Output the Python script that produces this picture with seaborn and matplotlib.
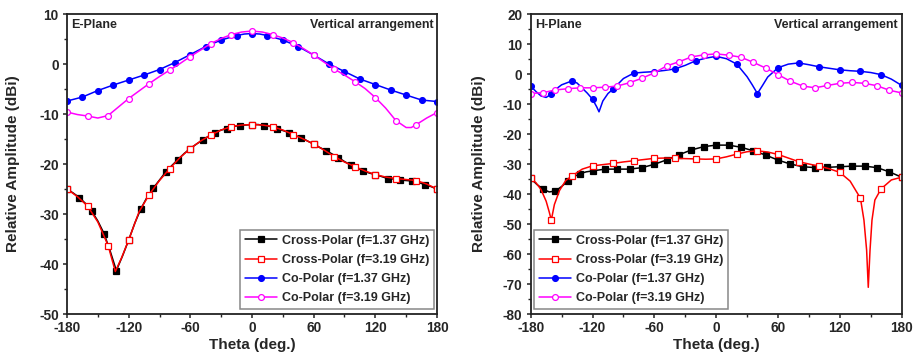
import numpy as np
import pandas as pd
import matplotlib
matplotlib.use("Agg")
import matplotlib.pyplot as plt
from matplotlib.ticker import MultipleLocator
import seaborn as sns

# ---------------- E-plane data ----------------
e_cx137_theta = [-180, -174, -168, -162, -156, -150, -144, -138, -132, -126, -120, -114, -108,
                 -102, -96, -90, -84, -78, -72, -66, -60, -54, -48, -42, -36, -30, -24, -18,
                 -12, -6, 0, 6, 12, 18, 24, 30, 36, 42, 48, 54, 60, 66, 72, 78, 84, 90, 96,
                 102, 108, 114, 120, 126, 132, 138, 144, 150, 156, 162, 168, 174, 180]
e_cx137_val = [-25.0, -25.8, -26.7, -27.9, -29.4, -31.4, -33.9, -37.4, -41.3, -38.4, -35.2, -31.8,
               -28.9, -26.6, -24.8, -23.2, -21.6, -20.3, -19.1, -17.9, -16.9, -16.0, -15.2, -14.4,
               -13.7, -13.2, -12.9, -12.5, -12.3, -12.2, -12.1, -12.1, -12.3, -12.5, -12.9, -13.3,
               -13.7, -14.3, -14.7, -15.4, -16.0, -16.7, -17.3, -18.0, -18.7, -19.5, -20.2, -20.8,
               -21.3, -21.8, -22.1, -22.5, -22.9, -23.0, -23.2, -23.3, -23.4, -23.7, -24.1, -24.5,
               -25.0]

e_cx319_theta = [-180, -170, -160, -150, -140, -133, -127, -120, -110, -100, -90, -80, -70, -60,
                 -50, -40, -30, -20, -10, 0, 10, 20, 30, 40, 50, 60, 70, 80, 90, 100, 110, 120,
                 130, 140, 150, 160, 170, 180]
e_cx319_val = [-25.0, -26.5, -28.4, -31.6, -36.3, -41.5, -38.8, -35.2, -29.6, -26.1, -23.3, -20.9,
               -18.7, -16.9, -15.4, -14.2, -13.2, -12.5, -12.2, -12.1, -12.2, -12.5, -13.2, -14.1,
               -15.0, -16.0, -17.2, -18.5, -19.6, -20.5, -21.4, -22.1, -22.6, -22.9, -23.1, -23.3,
               -24.0, -25.0]

e_co137_theta = [-180, -165, -150, -135, -120, -105, -90, -75, -60, -45, -30, -15, -7.5, 0, 7.5,
                 15, 30, 45, 60, 75, 90, 105, 120, 135, 150, 165, 180]
e_co137_val = [-7.4, -6.6, -5.3, -4.2, -3.2, -2.2, -1.1, 0.3, 1.9, 3.5, 4.8, 5.7, 6.0, 6.1, 6.0,
               5.7, 4.8, 3.5, 1.8, 0.0, -1.5, -3.0, -4.1, -5.2, -6.2, -7.2, -7.5]

e_co319_theta = [-180, -170, -160, -150, -140, -130, -120, -110, -100, -90, -80, -70, -60, -50,
                 -40, -30, -20, -10, 0, 10, 20, 30, 40, 50, 60, 70, 80, 90, 100, 110, 120, 130,
                 140, 150, 155, 160, 170, 180]
e_co319_val = [-9.6, -10.1, -10.4, -10.8, -10.3, -8.6, -6.9, -5.4, -3.9, -2.5, -1.2, 0.1, 1.5,
               2.8, 4.1, 5.1, 5.9, 6.4, 6.6, 6.4, 5.9, 5.2, 4.3, 3.1, 1.8, 0.4, -1.0, -2.2, -3.5,
               -4.9, -6.7, -8.8, -11.3, -12.7, -12.7, -12.1, -10.8, -9.7]

# ---------------- H-plane data ----------------
h_cx137_theta = [-180, -174, -168, -162, -156, -150, -144, -138, -132, -126, -120, -108, -96, -84,
                 -72, -60, -48, -36, -24, -12, 0, 12, 24, 36, 48, 60, 72, 84, 96, 108, 120, 132,
                 144, 156, 168, 174, 180]
h_cx137_val = [-34.8, -36.8, -38.4, -39.3, -39.0, -37.5, -35.7, -34.2, -33.2, -32.6, -32.3, -31.7,
               -31.7, -31.7, -31.2, -30.1, -28.6, -26.9, -25.3, -24.2, -23.7, -23.7, -24.4, -25.6,
               -27.0, -28.7, -30.0, -30.9, -31.2, -31.1, -30.9, -30.7, -30.7, -31.2, -32.6, -33.5,
               -34.4]

h_cx319_theta = [-180, -175, -170, -165, -162, -160, -157, -152, -146, -140, -130, -120, -110,
                 -100, -90, -80, -70, -60, -50, -40, -30, -20, -10, 0, 10, 20, 30, 40, 50, 60, 70,
                 80, 90, 100, 110, 120, 130, 140, 143.4, 146, 147.6, 149.3, 151.2, 154, 160, 170,
                 180]
h_cx319_val = [-34.8, -36.2, -38.5, -42.4, -46.0, -48.7, -43.5, -38.8, -35.5, -34.0, -31.7, -30.6,
               -30.2, -29.8, -29.3, -28.9, -28.5, -28.1, -28.0, -28.1, -28.2, -28.3, -28.4, -28.3,
               -27.6, -26.7, -25.9, -25.6, -26.0, -26.8, -28.0, -29.2, -30.0, -30.7, -31.6, -32.8,
               -35.7, -41.4, -48.7, -58.7, -71.1, -58.7, -48.7, -42.0, -38.3, -35.3, -34.4]

h_co137_theta = [-180, -175, -170, -165, -160, -155, -150, -140, -135, -130, -125, -120, -116,
                 -113.7, -110, -105, -100, -90, -80, -70, -60, -50, -40, -30, -20, -10, 0, 10,
                 20, 30, 35, 40, 45, 50, 60, 70, 80, 90, 100, 110, 120, 130, 140, 150, 160, 170,
                 180]
h_co137_val = [-4.0, -5.8, -7.3, -7.8, -6.7, -4.9, -3.6, -2.3, -3.0, -4.7, -6.4, -8.4, -10.9,
               -12.6, -9.0, -6.5, -5.0, -1.5, 0.3, 0.6, 0.8, 1.2, 1.7, 2.9, 4.4, 5.3, 5.9, 5.1,
               3.3, -0.9, -3.6, -6.5, -3.8, -1.0, 2.1, 3.3, 3.7, 3.1, 2.4, 1.9, 1.4, 1.1, 0.9, 0.5,
               -0.2, -1.7, -3.8]

h_co319_theta = [-180, -168, -156, -144, -132, -120, -108, -96, -84, -72, -60, -48, -36, -24, -12,
                 0, 12, 24, 36, 48, 60, 72, 84, 96, 108, 120, 132, 144, 156, 168, 180]
h_co319_val = [-6.5, -6.2, -5.3, -4.9, -4.6, -4.6, -4.4, -4.0, -2.9, -1.4, 0.4, 2.7, 4.1, 5.7, 6.4,
               6.7, 6.3, 5.6, 3.9, 2.0, -0.2, -2.4, -4.0, -4.6, -3.8, -3.1, -2.8, -3.1, -3.9, -5.4,
               -6.3]

labels = ["Cross-Polar (f=1.37 GHz)", "Cross-Polar (f=3.19 GHz)",
          "Co-Polar (f=1.37 GHz)", "Co-Polar (f=3.19 GHz)"]
x_ticks = [-180, -120, -60, 0, 60, 120, 180]

sns.set_style("ticks")
plt.rcParams["font.family"] = ["Liberation Sans", "DejaVu Sans"]
plt.rcParams["font.weight"] = "bold"
plt.rcParams["axes.labelweight"] = "bold"
plt.rcParams["axes.unicode_minus"] = False

# series styles: colour, marker, filled?, marker size
styles = [
    ("#000000", "s", True, 3.9),
    ("#ff0000", "s", False, 3.9),
    ("#0000ff", "o", True, 4.2),
    ("#ff00ff", "o", False, 4.2),
]


def mark_idx(theta, step):
    return [i for i, t in enumerate(theta) if abs(((t + 180) / step) - round((t + 180) / step)) < 1e-6]


def draw_panel(ax, series, steps, ylim, ystep, title, legend_anchor, legend_loc):
    for (theta, vals), (color, mk, filled, ms), step, lab in zip(series, styles, steps, labels):
        df = pd.DataFrame({"theta": theta, "amp": vals})
        sns.lineplot(data=df, x="theta", y="amp", ax=ax, color=color, linewidth=1.1,
                     marker=mk, markersize=ms, markevery=mark_idx(theta, step),
                     markerfacecolor=color if filled else "white",
                     markeredgecolor=color, markeredgewidth=0.9,
                     errorbar=None, label=lab, legend=False)
    ax.set_xlim(-180, 180)
    ax.set_ylim(*ylim)
    ax.set_xticks(x_ticks)
    ax.xaxis.set_minor_locator(MultipleLocator(30))
    ax.yaxis.set_major_locator(MultipleLocator(ystep))
    ax.yaxis.set_minor_locator(MultipleLocator(ystep / 2))
    ax.tick_params(axis="both", which="major", direction="out", length=3, width=1.1,
                   labelsize=9.8, top=False, right=False, color="#222222")
    ax.tick_params(axis="both", which="minor", direction="out", length=1.9, width=1.0,
                   top=False, right=False, color="#222222")
    ax.tick_params(axis="x", which="major", pad=2.3)
    ax.tick_params(axis="y", which="major", pad=3.0)
    for lbl in ax.get_xticklabels() + ax.get_yticklabels():
        lbl.set_fontweight("bold")
    for sp in ax.spines.values():
        sp.set_visible(True)
        sp.set_linewidth(1.3)
        sp.set_color("#222222")
    ax.set_xlabel("Theta (deg.)", fontsize=11, fontweight="bold")
    ax.set_ylabel("Relative Amplitude (dBi)", fontsize=11, fontweight="bold")
    ax.xaxis.set_label_coords(0.5, -0.079)
    ax.text(0.012, 0.962, title, transform=ax.transAxes, fontsize=9, fontweight="bold",
            ha="left", va="center")
    ax.text(0.99, 0.962, "Vertical arrangement", transform=ax.transAxes, fontsize=9,
            fontweight="bold", ha="right", va="center")
    leg = ax.legend(handles=ax.get_lines(), labels=labels, loc=legend_loc,
                    bbox_to_anchor=legend_anchor, borderaxespad=0, fontsize=9,
                    frameon=True, fancybox=False, handlelength=2.6, handletextpad=0.4,
                    labelspacing=0.58, borderpad=0.36, framealpha=1)
    leg.get_frame().set_edgecolor("#888888")
    leg.get_frame().set_linewidth(1.1)
    for t in leg.get_texts():
        t.set_fontweight("bold")


fig = plt.figure(figsize=(9.18, 3.57), dpi=100)
ax1 = fig.add_axes([0.073, 0.1204, 0.403, 0.8403])
ax2 = fig.add_axes([0.5781, 0.1204, 0.4041, 0.8403])

draw_panel(ax1,
           [(e_cx137_theta, e_cx137_val), (e_cx319_theta, e_cx319_val),
            (e_co137_theta, e_co137_val), (e_co319_theta, e_co319_val)],
           [12, 20, 15, 20], (-50, 10), 10, "E-Plane", (0.992, 0.017), "lower right")
ax1.yaxis.set_label_coords(-0.127, 0.5)

draw_panel(ax2,
           [(h_cx137_theta, h_cx137_val), (h_cx319_theta, h_cx319_val),
            (h_co137_theta, h_co137_val), (h_co319_theta, h_co319_val)],
           [12, 20, 20, 12], (-80, 20), 10, "H-Plane", (0.009, 0.017), "lower left")
ax2.yaxis.set_label_coords(-0.12, 0.5)

fig.savefig("out.png", dpi=100)
